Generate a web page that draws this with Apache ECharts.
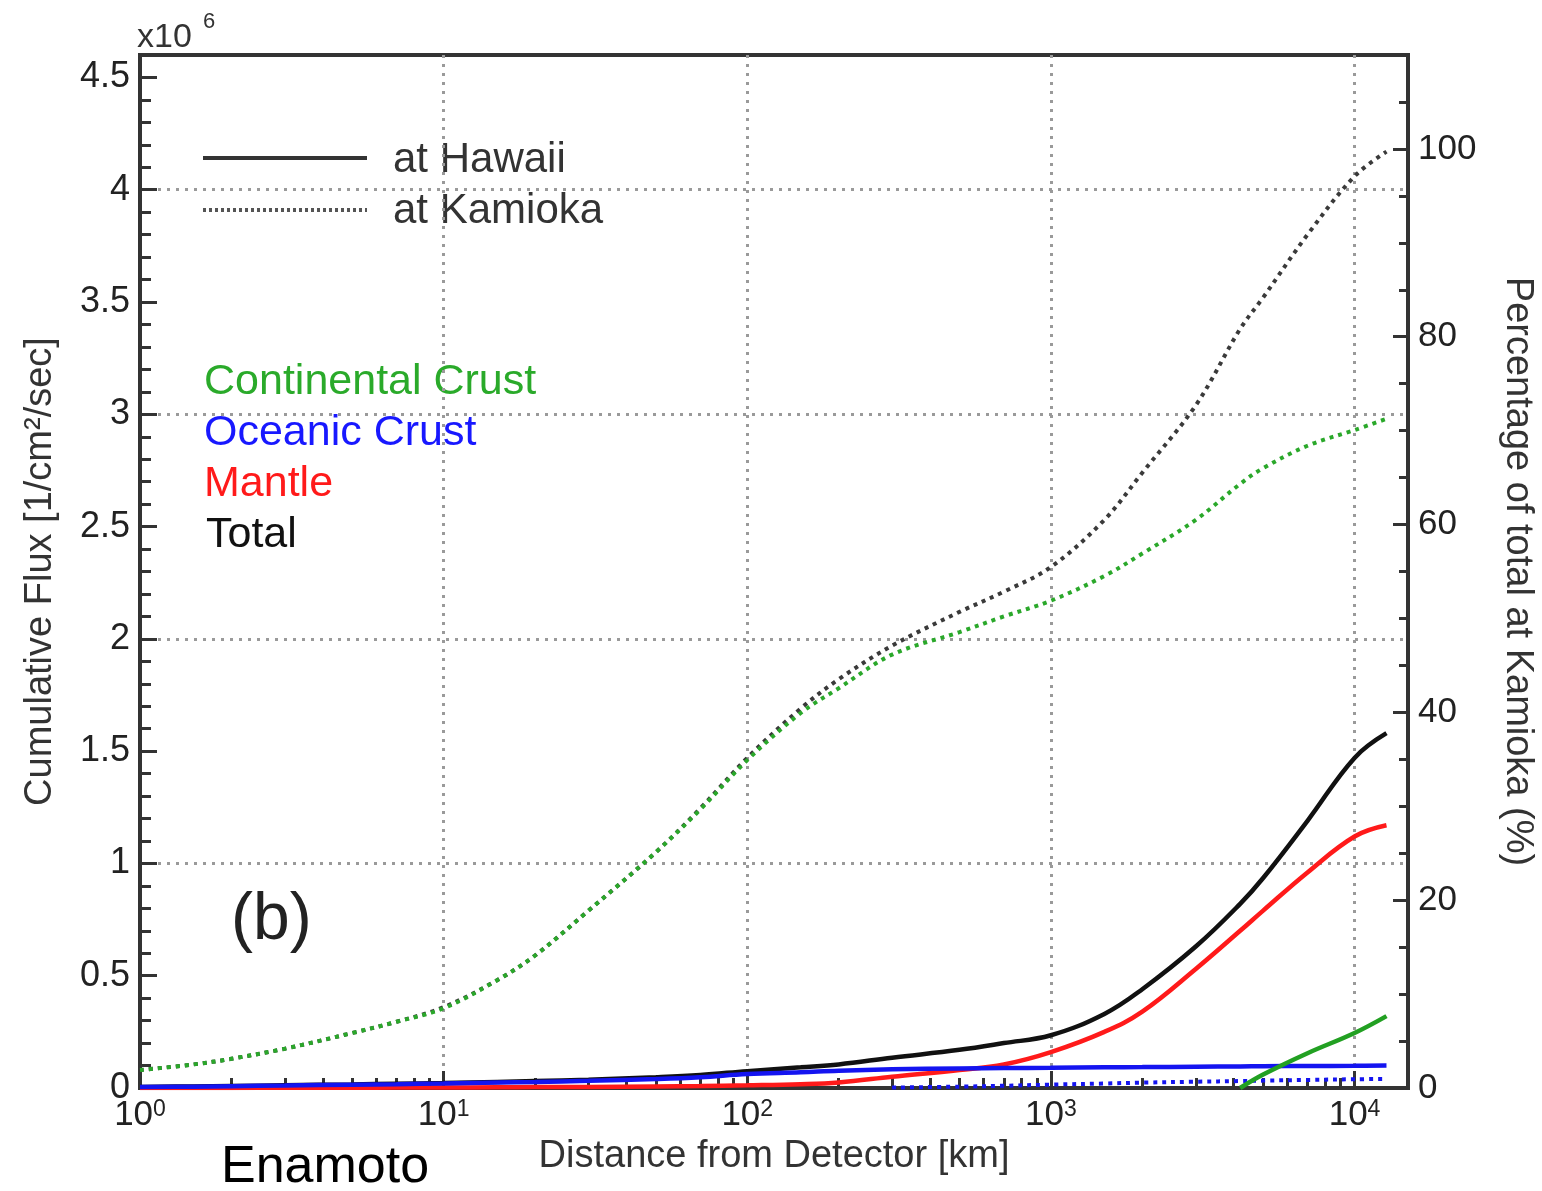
<!DOCTYPE html>
<html><head><meta charset="utf-8">
<script src="https://cdn.jsdelivr.net/npm/echarts@6/dist/echarts.min.js"></script>
<style>html,body{margin:0;padding:0;background:#fff}#c{width:1542px;height:1191px}</style>
</head><body><div id="c"></div>
<script>
// ---- data (distance from detector in km, cumulative flux in 10^6 /cm^2/s) ----
const distanceKm = [1, 1.5, 2, 3, 5, 7, 10, 15, 20, 30, 50, 70, 100, 150, 200, 300, 500, 700, 1000, 1500, 2000, 3000, 4200, 5000, 7000, 10000, 12742];

// at Kamioka (dotted)
const kamiokaTotal = [0.08, 0.105, 0.13, 0.175, 0.245, 0.295, 0.36, 0.48, 0.59, 0.79, 1.05, 1.245, 1.47, 1.69, 1.82, 1.97, 2.12, 2.21, 2.32, 2.53, 2.74, 3.04, 3.38, 3.52, 3.80, 4.06, 4.17];
const kamiokaContinental = [0.08, 0.105, 0.13, 0.175, 0.245, 0.295, 0.355, 0.48, 0.59, 0.79, 1.05, 1.24, 1.46, 1.67, 1.78, 1.93, 2.03, 2.10, 2.17, 2.28, 2.38, 2.53, 2.69, 2.76, 2.86, 2.93, 2.98];
const kamiokaOceanic = [null, null, null, null, null, null, null, null, null, null, null, null, null, null, null, 0.002, 0.006, 0.01, 0.015, 0.02, 0.024, 0.028, 0.031, 0.033, 0.036, 0.039, 0.04];

// at Hawaii (solid)
const hawaiiTotal = [0.005, 0.007, 0.009, 0.012, 0.016, 0.019, 0.022, 0.027, 0.031, 0.037, 0.048, 0.058, 0.075, 0.092, 0.105, 0.135, 0.17, 0.20, 0.235, 0.33, 0.44, 0.63, 0.82, 0.935, 1.19, 1.47, 1.58];
const hawaiiMantle = [0, 0, 0.0005, 0.001, 0.001, 0.002, 0.002, 0.003, 0.004, 0.005, 0.007, 0.009, 0.012, 0.017, 0.025, 0.05, 0.08, 0.105, 0.16, 0.25, 0.34, 0.53, 0.70, 0.79, 0.96, 1.12, 1.17];
const hawaiiOceanic = [0.004, 0.006, 0.008, 0.011, 0.015, 0.017, 0.02, 0.024, 0.027, 0.032, 0.04, 0.048, 0.062, 0.07, 0.077, 0.083, 0.087, 0.089, 0.09, 0.092, 0.093, 0.095, 0.096, 0.097, 0.098, 0.099, 0.1];
const hawaiiContinental = [null, null, null, null, null, null, null, null, null, null, null, null, null, null, null, null, null, null, null, null, null, null, 0, 0.06, 0.155, 0.245, 0.32];

const leftTickLabels = ['0', '0.5', '1', '1.5', '2', '2.5', '3', '3.5', '4', '4.5'];
const rightTickLabels = ['0', '20', '40', '60', '80', '100'];

const FONT = '"Liberation Sans", Arial, Helvetica, sans-serif';
const GREEN = '#22a022', BLUE = '#1414f0', RED = '#ff1a1a', BLACK = '#111111';

function pairs(ys) { return distanceKm.map((x, i) => [x, ys[i]]); }

const chart = echarts.init(document.getElementById('c'), null, { renderer: 'canvas' });

const dotted = (name, ys, color) => ({
  name, type: 'line', xAxisIndex: 0, yAxisIndex: 0, data: pairs(ys), smooth: 0.35, showSymbol: false,
  lineStyle: { color, width: 4, type: [4, 5], cap: 'butt' }, silent: true
});
const solid = (name, ys, color) => ({
  name, type: 'line', xAxisIndex: 0, yAxisIndex: 0, data: pairs(ys), smooth: 0.4, showSymbol: false,
  lineStyle: { color, width: 4.5 }, silent: true
});

const tickStyle = { color: '#333', width: 3 };
const gridDots = { show: true, showMinLine: false, showMaxLine: false, lineStyle: { color: '#9a9a9a', width: 3, type: [3, 6] } };

chart.setOption({
  animation: false,
  backgroundColor: '#fff',
  grid: { left: 140, right: 134, top: 55, bottom: 103, show: true, borderColor: '#333', borderWidth: 4, outerBoundsMode: 'none', containLabel: false },
  xAxis: [{
    type: 'log', logBase: 10, min: 1, max: 15000,
    axisLine: { show: false },
    axisTick: { show: true, inside: true, length: 17, lineStyle: tickStyle },
    minorTick: { show: true, splitNumber: 9, length: 10, lineStyle: tickStyle },
    splitLine: gridDots,
    axisLabel: {
      margin: 10, color: '#222', fontFamily: FONT, fontSize: 35,
      formatter: function (v) {
        const e = Math.round(Math.log10(v));
        if (Math.abs(Math.pow(10, e) - v) > 1e-6 * v) return '';
        return '{b|10}{s|' + e + '}';
      },
      rich: {
        b: { fontSize: 35, fontFamily: FONT, color: '#222' },
        s: { fontSize: 23, fontFamily: FONT, color: '#222', verticalAlign: 'top' }
      }
    },
    name: 'Distance from Detector [km]', nameLocation: 'middle', nameGap: 44,
    nameTextStyle: { fontFamily: FONT, fontSize: 38, color: '#333' }
  }],
  yAxis: [
    {
      type: 'value', position: 'left', min: 0, max: 4.6, interval: 0.5,
      axisLine: { show: false },
      axisTick: { show: true, inside: true, length: 17, lineStyle: tickStyle },
      splitLine: { show: false },
      axisLabel: {
        margin: 10, color: '#222', fontFamily: FONT, fontSize: 36,
        formatter: function (v) { const i = Math.round(v / 0.5); return (Math.abs(i * 0.5 - v) < 1e-6 && i < leftTickLabels.length) ? leftTickLabels[i] : ''; }
      },
      name: 'Cumulative Flux [1/cm²/sec]', nameLocation: 'middle', nameRotate: 90, nameGap: 80,
      nameTextStyle: { fontFamily: FONT, fontSize: 38, color: '#333' }
    },
    {
      type: 'value', position: 'left', min: 0, max: 4.6, interval: 0.1,
      axisLine: { show: false }, axisLabel: { show: false }, splitLine: { show: false },
      axisTick: { show: true, inside: true, length: 11, lineStyle: tickStyle }
    },
    {
      type: 'value', position: 'left', min: 0, max: 4.6, interval: 1,
      axisLine: { show: false }, axisLabel: { show: false }, axisTick: { show: false },
      splitLine: gridDots
    },
    {
      type: 'value', position: 'right', min: 0, max: 110, interval: 20,
      axisLine: { show: false },
      axisTick: { show: true, inside: true, length: 15, lineStyle: tickStyle },
      splitLine: { show: false },
      axisLabel: {
        margin: 10, color: '#222', fontFamily: FONT, fontSize: 35,
        formatter: function (v) { const i = Math.round(v / 20); return (Math.abs(i * 20 - v) < 1e-6 && i < rightTickLabels.length) ? rightTickLabels[i] : ''; }
      },
      name: 'Percentage of total at Kamioka (%)', nameLocation: 'middle', nameRotate: -90, nameGap: 90,
      nameTextStyle: { fontFamily: FONT, fontSize: 38, color: '#333' }
    },
    {
      type: 'value', position: 'right', min: 0, max: 110, interval: 5,
      axisLine: { show: false }, axisLabel: { show: false }, splitLine: { show: false },
      axisTick: { show: true, inside: true, length: 9, lineStyle: tickStyle }
    }
  ],
  series: [
    dotted('Total at Kamioka', kamiokaTotal, '#3a3a3a'),
    dotted('Continental Crust at Kamioka', kamiokaContinental, '#2aa82a'),
    dotted('Oceanic Crust at Kamioka', kamiokaOceanic, BLUE),
    solid('Total at Hawaii', hawaiiTotal, BLACK),
    solid('Mantle at Hawaii', hawaiiMantle, RED),
    solid('Oceanic Crust at Hawaii', hawaiiOceanic, BLUE),
    solid('Continental Crust at Hawaii', hawaiiContinental, GREEN)
  ],
  graphic: [
    { type: 'text', x: 137, y: 38, style: { text: 'x10', font: '34px ' + FONT, fill: '#333', verticalAlign: 'middle' } },
    { type: 'text', x: 203, y: 22, style: { text: '6', font: '22px ' + FONT, fill: '#333', verticalAlign: 'middle' } },
    { type: 'line', shape: { x1: 203, y1: 158, x2: 367, y2: 158 }, style: { stroke: '#333', lineWidth: 4 } },
    { type: 'line', shape: { x1: 203, y1: 210, x2: 367, y2: 210 }, style: { stroke: '#555', lineWidth: 4, lineDash: [3, 3] } },
    { type: 'text', x: 393, y: 160, style: { text: 'at Hawaii', font: '42px ' + FONT, fill: '#333', verticalAlign: 'middle' } },
    { type: 'text', x: 393, y: 211, style: { text: 'at Kamioka', font: '42px ' + FONT, fill: '#333', verticalAlign: 'middle' } },
    { type: 'text', x: 204, y: 382, style: { text: 'Continental Crust', font: '43px ' + FONT, fill: '#2aaa2a', verticalAlign: 'middle' } },
    { type: 'text', x: 204, y: 433, style: { text: 'Oceanic Crust', font: '43px ' + FONT, fill: '#1818ff', verticalAlign: 'middle' } },
    { type: 'text', x: 204, y: 484, style: { text: 'Mantle', font: '43px ' + FONT, fill: '#ff1a1a', verticalAlign: 'middle' } },
    { type: 'text', x: 206, y: 535, style: { text: 'Total', font: '43px ' + FONT, fill: '#111', verticalAlign: 'middle' } },
    { type: 'text', x: 231, y: 921, style: { text: '(b)', font: '66px ' + FONT, fill: '#222', verticalAlign: 'middle' } },
    { type: 'text', x: 221, y: 1168, style: { text: 'Enamoto', font: '52px ' + FONT, fill: '#000', verticalAlign: 'middle' } }
  ]
});
</script>
</body></html>
